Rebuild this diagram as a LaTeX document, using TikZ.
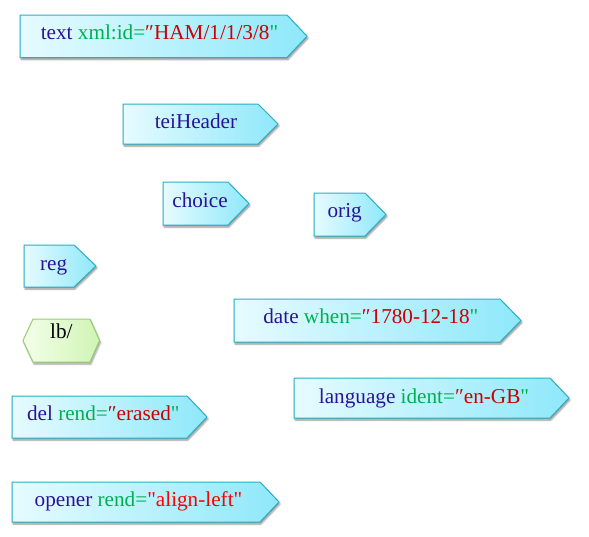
\documentclass[tikz,border=0pt]{standalone}
\usepackage{fontspec}
\newfontfamily\lib{Liberation Serif}
\usetikzlibrary{shadows.blur}
\definecolor{tagc}{HTML}{2A1396}
\definecolor{attc}{HTML}{00B050}
\definecolor{valc}{HTML}{CC0000}
\definecolor{valb}{HTML}{FF0000}
\definecolor{taglight}{HTML}{E6FBFF}
\definecolor{tagdark}{HTML}{8EE8FA}
\definecolor{tagborder}{HTML}{2AAEC6}
\definecolor{lblight}{HTML}{F4FFEA}
\definecolor{lbdark}{HTML}{D0F4B4}
\definecolor{lbborder}{HTML}{98CC70}
\newcommand\tg[1]{\textcolor{tagc}{#1}}
\newcommand\att[1]{\textcolor{attc}{#1}}
\newcommand\vl[1]{\textcolor{valc}{#1}}
\tikzset{
  tagshape/.style={draw=tagborder, line width=1pt, left color=taglight, right color=tagdark,
    blur shadow={shadow xshift=1pt, shadow yshift=-2pt, shadow opacity=45, shadow blur steps=6}},
  lbshape/.style={draw=lbborder, line width=1pt, left color=lblight, right color=lbdark,
    blur shadow={shadow xshift=1pt, shadow yshift=-2pt, shadow opacity=40, shadow blur steps=6}},
  lbl/.style={anchor=base, inner sep=0pt, font=\lib\fontsize{21.2}{25}\selectfont}
}
\newcommand\tagbox[5]{%
  \path[tagshape] (#1,#2) -- (#3,#2) -- (#4,{(#2+#5)/2}) -- (#3,#5) -- (#1,#5) -- cycle;}
\begin{document}
\begin{tikzpicture}[x=1pt,y=-1pt]
\useasboundingbox (0,0) rectangle (589,536);
% text
\tagbox{20}{15}{287}{307}{57.5}
\node[lbl] (text) at (159.5,39.5) {\tg{text} \att{xml:id=}\vl{″HAM/1/1/3/8}\att{"}};
% teiHeader
\tagbox{123}{104}{258}{278}{144}
\node[lbl] (teiHeader) at (196,128.5) {\tg{teiHeader}};
% choice
\tagbox{163}{182}{228}{249}{225}
\node[lbl] (choice) at (200,207) {\tg{choice}};
% orig
\tagbox{314}{193}{365}{386}{236}
\node[lbl] (orig) at (344.7,217) {\tg{orig}};
% reg
\tagbox{24}{245}{74}{96}{287}
\node[lbl] (reg) at (53.7,270) {\tg{reg}};
% lb/
\path[lbshape] (23,340.5) -- (33,319) -- (90,319) -- (99.5,340.5) -- (90,362) -- (33,362) -- cycle;
\node[lbl] (lb) at (61.3,338.5) {lb/};
% date
\tagbox{234}{299}{500}{521}{342}
\node[lbl] (date) at (370.8,323.5) {\tg{date} \att{when=}\vl{″1780-12-18}\att{"}};
% language
\tagbox{294}{378}{550}{569}{418}
\node[lbl] (language) at (424,403) {\tg{language} \att{ident=}\vl{″en-GB}\att{"}};
% del
\tagbox{12}{396}{187}{207}{438}
\node[lbl] (del) at (103.3,420.7) {\tg{del} \att{rend=}\vl{″erased}\att{"}};
% opener
\tagbox{12}{482}{260}{279}{522}
\node[lbl] (opener) at (138.5,506.5) {\tg{opener} \att{rend=}\textcolor{valb}{"align-left"}};
\end{tikzpicture}
\end{document}
